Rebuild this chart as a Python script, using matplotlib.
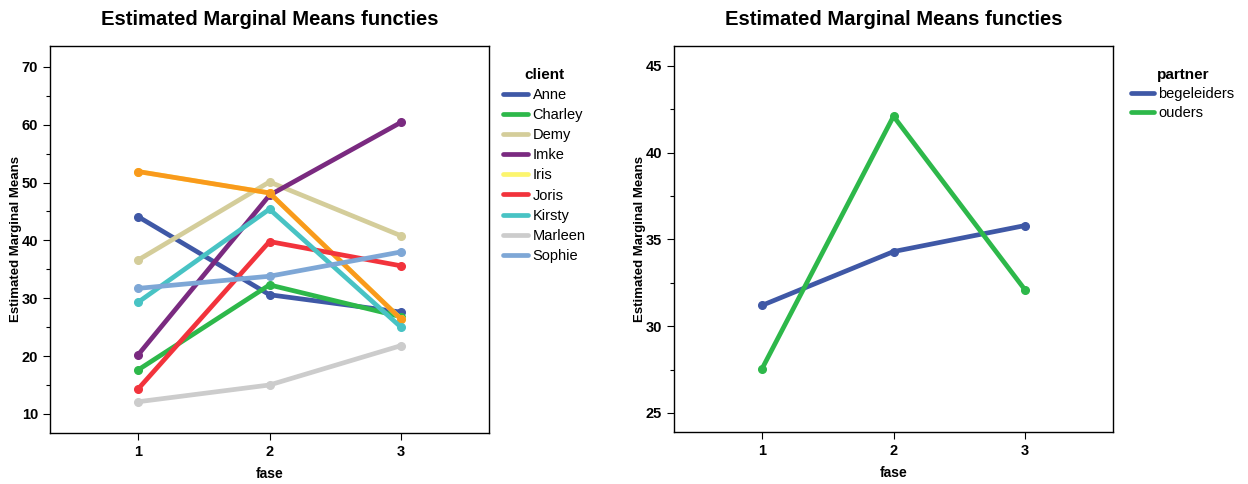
import matplotlib
matplotlib.use("Agg")
import matplotlib.pyplot as plt
from matplotlib.ticker import MultipleLocator

plt.rcParams['font.family'] = ['Liberation Sans', 'DejaVu Sans']

fase = [1, 2, 3]

# left panel: clients (orange series is not shown in the legend of the original)
clients = ['Anne', 'Charley', 'Demy', 'Imke', 'Iris', 'Joris', 'Kirsty', 'Marleen', 'Sophie']
anne = [44.1, 30.6, 27.6]
charley = [17.6, 32.3, 26.8]
demy = [36.6, 50.1, 40.8]
imke = [20.2, 47.8, 60.4]
iris = [51.9, 48.2, 26.4]
joris = [14.3, 39.8, 35.6]
kirsty = [29.3, 45.4, 25.0]
marleen = [12.1, 15.0, 21.8]
sophie = [31.7, 33.8, 38.0]
extra = [51.9, 48.2, 26.4]
client_values = [anne, charley, demy, imke, iris, joris, kirsty, marleen, sophie]
client_colors = ['#3f58a6', '#2db84a', '#d4cd9a', '#7a2a80', '#fcf56e', '#f2333c', '#48c3c4', '#cccccc', '#7ea7d6']

# right panel: partner
partners = ['begeleiders', 'ouders']
begeleiders = [31.2, 34.3, 35.8]
ouders = [27.55, 42.1, 32.1]
partner_colors = ['#3f58a6', '#2db84a']

fig = plt.figure(figsize=(12.48, 4.84), dpi=100)
ax1 = fig.add_axes([50/1248, 51/484, 439/1248, 387/484])
ax2 = fig.add_axes([674/1248, 52/484, 439/1248, 386/484])

lw = 3.4
ms = 5.5

for name, vals, col in zip(clients, client_values, client_colors):
    ax1.plot(fase, vals, color=col, lw=lw, marker='o', ms=ms, label=name,
             solid_capstyle='round', zorder=2)
    if name == 'Iris':
        ax1.plot(fase, extra, color='#f99a1c', lw=lw, marker='o', ms=ms,
                 label='_nolegend_', solid_capstyle='round', zorder=2)

for name, vals, col in zip(partners, [begeleiders, ouders], partner_colors):
    ax2.plot(fase, vals, color=col, lw=lw, marker='o', ms=ms, label=name,
             solid_capstyle='round')

ax1.set_ylim(6.7, 73.6)
ax1.yaxis.set_major_locator(MultipleLocator(10))
ax1.yaxis.set_minor_locator(MultipleLocator(5))
ax2.set_ylim(23.9, 46.15)
ax2.yaxis.set_major_locator(MultipleLocator(5))
ax2.yaxis.set_minor_locator(MultipleLocator(2.5))

for ax in (ax1, ax2):
    ax.set_xlim(0.33, 3.67)
    ax.set_xticks(fase)
    ax.tick_params(which='both', top=False, right=False, direction='out', width=0.8, colors='black')
    ax.tick_params(which='major', length=5, labelsize=10.5)
    ax.tick_params(which='minor', length=3)
    for lab in ax.get_xticklabels() + ax.get_yticklabels():
        lab.set_fontweight('bold')
    for sp in ax.spines.values():
        sp.set_linewidth(1.0)
        sp.set_color('black')
    ax.set_xlabel('fase', fontsize=10, fontweight='bold', labelpad=6)
    ax.set_ylabel('Estimated Marginal Means', fontsize=9.5, fontweight='bold', labelpad=0)
    ax.set_title('Estimated Marginal Means functies', fontsize=14.6, fontweight='bold', pad=15)

leg1 = ax1.legend(loc='upper left', bbox_to_anchor=(497/1248, 1 - 62/484), bbox_transform=fig.transFigure,
                  frameon=False, title='client', fontsize=10.5, handlelength=1.7, handletextpad=0.35,
                  labelspacing=0.42, borderaxespad=0)
leg1.get_title().set_fontweight('bold')
leg1.get_title().set_fontsize(11)
for h in leg1.get_lines():
    h.set_marker('')
    h.set_linewidth(3.4)

leg2 = ax2.legend(loc='upper left', bbox_to_anchor=(1125/1248, 1 - 62/484), bbox_transform=fig.transFigure,
                  frameon=False, title='partner', fontsize=10.5, handlelength=1.6, handletextpad=0.3,
                  labelspacing=0.35, borderaxespad=0)
leg2.get_title().set_fontweight('bold')
leg2.get_title().set_fontsize(11)
for h in leg2.get_lines():
    h.set_marker('')
    h.set_linewidth(3.4)

fig.savefig('out.png', dpi=100)
